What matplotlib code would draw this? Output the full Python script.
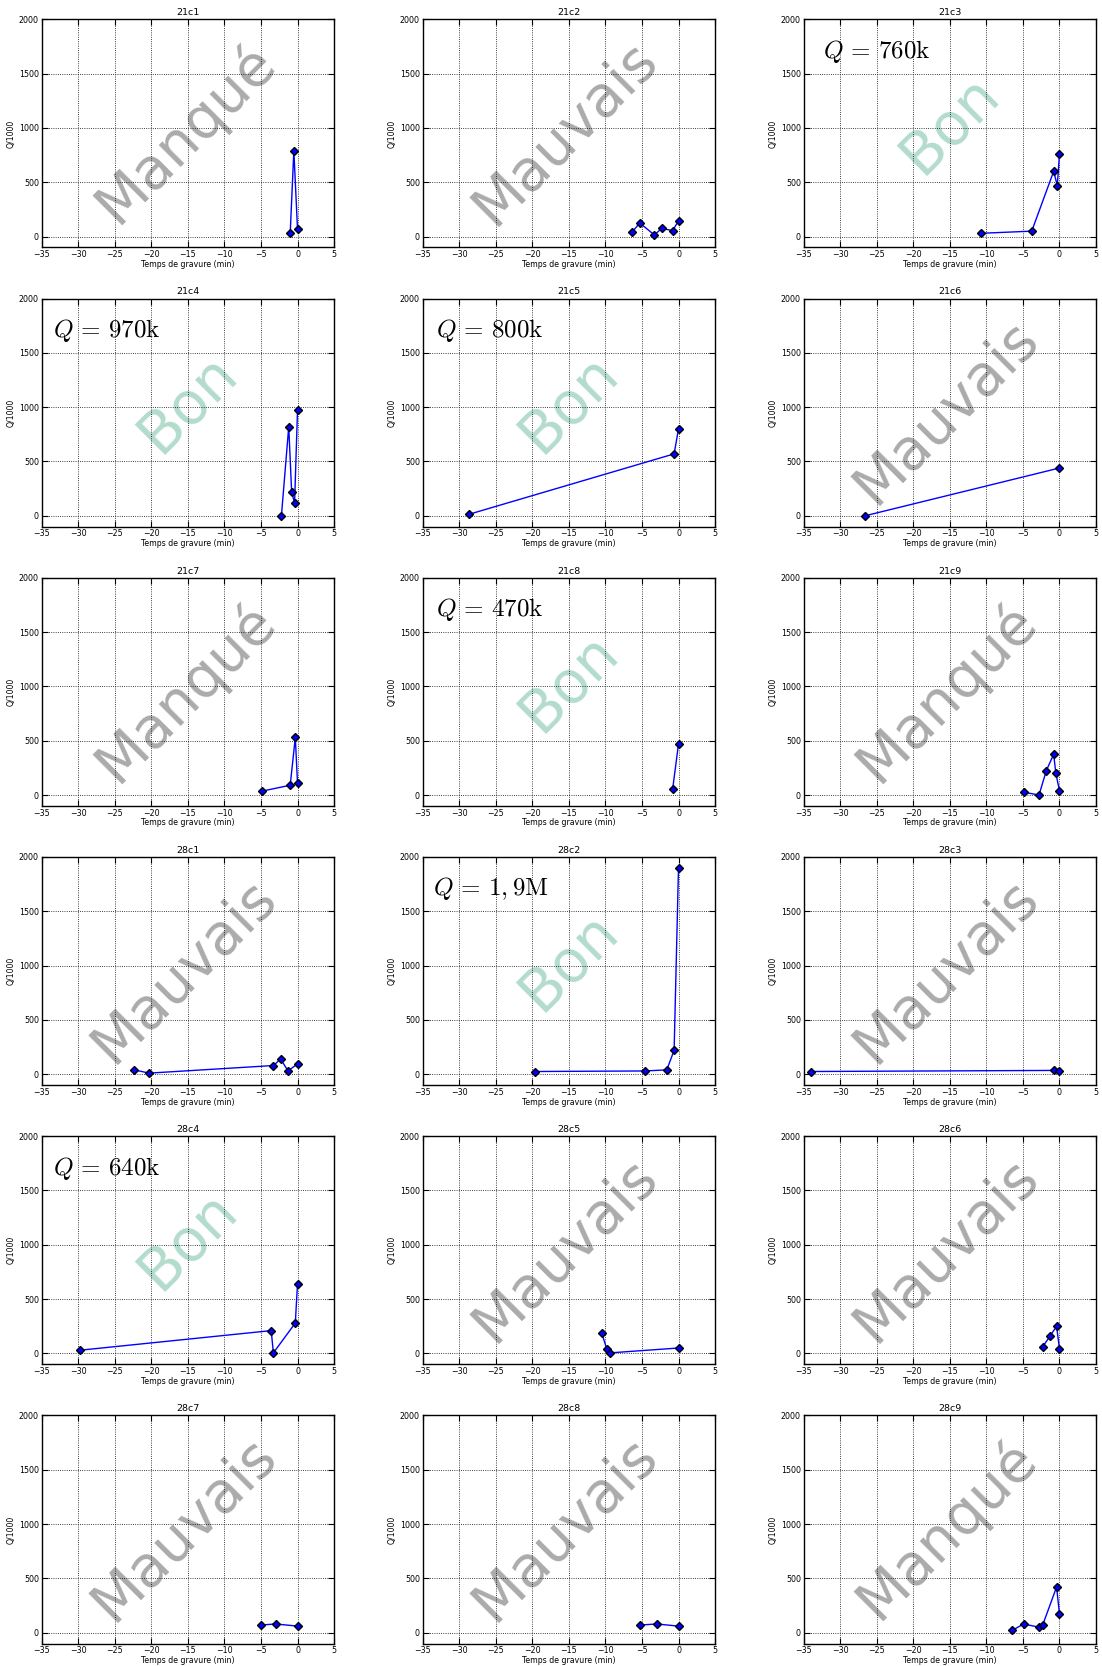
import matplotlib
matplotlib.use("Agg")
import matplotlib.pyplot as plt

titles = ["21c1", "21c2", "21c3", "21c4", "21c5", "21c6", "21c7", "21c8", "21c9",
          "28c1", "28c2", "28c3", "28c4", "28c5", "28c6", "28c7", "28c8", "28c9"]

x_21c1 = [-1.0, -0.5, 0.0]
y_21c1 = [30, 790, 70]
x_21c2 = [-6.3, -5.3, -3.3, -2.3, -0.8, 0.0]
y_21c2 = [45, 125, 15, 75, 55, 145]
x_21c3 = [-10.8, -3.8, -0.8, -0.3, 0.0]
y_21c3 = [30, 50, 600, 470, 760]
x_21c4 = [-2.2, -1.2, -0.8, -0.4, 0.0]
y_21c4 = [0, 820, 215, 120, 970]
x_21c5 = [-28.6, -0.6, 0.0]
y_21c5 = [15, 570, 800]
x_21c6 = [-26.6, 0.0]
y_21c6 = [0, 440]
x_21c7 = [-4.9, -1.0, -0.3, 0.0]
y_21c7 = [35, 90, 530, 110]
x_21c8 = [-0.8, 0.0]
y_21c8 = [55, 470]
x_21c9 = [-4.8, -2.8, -1.8, -0.8, -0.5, 0.0]
y_21c9 = [25, 0, 225, 375, 200, 40]
x_28c1 = [-22.3, -20.3, -3.3, -2.3, -1.3, 0.0]
y_28c1 = [40, 10, 80, 140, 30, 95]
x_28c2 = [-19.6, -4.6, -1.6, -0.6, 0.0]
y_28c2 = [25, 30, 40, 220, 1900]
x_28c3 = [-34.0, -0.7, 0.0]
y_28c3 = [25, 35, 30]
x_28c4 = [-29.7, -3.6, -3.3, -0.3, 0.0]
y_28c4 = [30, 210, 5, 280, 640]
x_28c5 = [-10.5, -9.8, -9.4, 0.0]
y_28c5 = [185, 40, 5, 50]
x_28c6 = [-2.3, -1.3, -0.4, 0.0]
y_28c6 = [60, 160, 250, 40]
x_28c7 = [-5.0, -3.0, 0.0]
y_28c7 = [70, 80, 60]
x_28c8 = [-5.2, -3.0, 0.0]
y_28c8 = [70, 80, 60]
x_28c9 = [-6.5, -4.9, -2.8, -2.3, -0.4, 0.0]
y_28c9 = [20, 80, 50, 70, 420, 170]

xs = [x_21c1, x_21c2, x_21c3, x_21c4, x_21c5, x_21c6, x_21c7, x_21c8, x_21c9,
      x_28c1, x_28c2, x_28c3, x_28c4, x_28c5, x_28c6, x_28c7, x_28c8, x_28c9]
ys = [y_21c1, y_21c2, y_21c3, y_21c4, y_21c5, y_21c6, y_21c7, y_21c8, y_21c9,
      y_28c1, y_28c2, y_28c3, y_28c4, y_28c5, y_28c6, y_28c7, y_28c8, y_28c9]

verdicts = ["Manqué", "Mauvais", "Bon", "Bon", "Bon", "Mauvais", "Manqué", "Bon", "Manqué",
            "Mauvais", "Bon", "Mauvais", "Bon", "Mauvais", "Mauvais", "Mauvais", "Mauvais", "Manqué"]
q_labels = [None, None, r"$Q\,=\,760\mathrm{k}$", r"$Q\,=\,970\mathrm{k}$", r"$Q\,=\,800\mathrm{k}$", None,
            None, r"$Q\,=\,470\mathrm{k}$", None, None, r"$Q\,=\,1,9\mathrm{M}$", None,
            r"$Q\,=\,640\mathrm{k}$", None, None, None, None, None]

plt.rcParams['mathtext.fontset'] = 'cm'
plt.rcParams['font.family'] = ['DejaVu Sans']

fig, axes = plt.subplots(6, 3, figsize=(11.02, 16.66), dpi=100)
fig.patch.set_facecolor('white')
fig.subplots_adjust(left=0.0378, right=0.9946, top=0.9884, bottom=0.0135,
                    wspace=0.303, hspace=0.224)

q_xpos = {2: 0.065, 3: 0.04, 4: 0.045, 7: 0.045, 10: 0.035, 12: 0.04}

for i, ax in enumerate(axes.flat):
    ax.set_facecolor('white')
    if verdicts[i] == "Bon":
        ax.text(0.5, 0.54, verdicts[i], transform=ax.transAxes, rotation=45,
                ha='center', va='center', fontsize=42, color='#b3dccd', zorder=1)
    else:
        ax.text(0.49, 0.5, verdicts[i], transform=ax.transAxes, rotation=45,
                ha='center', va='center', fontsize=41, color='#ababab', zorder=1)
    ax.plot(xs[i], ys[i], '-', color='blue', lw=1.0, marker='D', markersize=4,
            markerfacecolor='blue', markeredgecolor='black', markeredgewidth=1.0, zorder=3)
    ax.set_xlim(-35, 5)
    ax.set_ylim(-100, 2000)
    ax.set_xticks(range(-35, 6, 5))
    ax.set_yticks(range(0, 2001, 500))
    ax.grid(True, linestyle=':', color='black', linewidth=0.6)
    ax.set_axisbelow(False)
    ax.tick_params(direction='in', top=True, right=True, labelsize=5.7, length=4, pad=2)
    for sp in ax.spines.values():
        sp.set_linewidth(1.0)
    ax.set_title(titles[i], fontsize=6.8, pad=3)
    ax.set_xlabel("Temps de gravure (min)", fontsize=5.6, labelpad=0.5)
    ax.set_ylabel("Q/1000", fontsize=5.6, labelpad=2)
    if q_labels[i] is not None:
        ax.text(q_xpos.get(i, 0.045), 0.86, q_labels[i], transform=ax.transAxes,
                ha='left', va='center', fontsize=18, color='black', zorder=4)

fig.savefig("out.png", dpi=100, facecolor='white')
